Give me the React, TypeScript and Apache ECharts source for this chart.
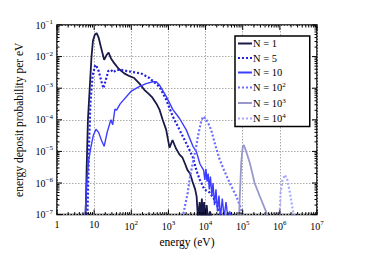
import React, { useEffect, useRef } from "react";
import * as echarts from "echarts";

// energies (eV) and probabilities per eV
const n1E = [5.9, 6.3, 6.8, 7.6, 8.5, 9.3, 10.5, 11.7, 13.2, 15.1, 18.6, 21.4, 24.5, 28.2, 34.7, 45, 64.6, 90, 120, 166, 224, 300, 372, 470, 575, 700, 871, 1072, 1288, 1585, 1995, 2399, 2818, 3236, 3802, 4467, 5248, 5754, 6026, 6310, 6918, 7413, 7943, 8511, 9120, 10000, 10715, 11749, 13183, 15136];
const n1P = [1e-7, 3.2e-6, 1e-4, 1e-3, 1e-2, 3.2e-2, 5e-2, 5.5e-2, 4e-2, 2.1e-2, 7.9e-3, 1.1e-2, 1.35e-2, 8.9e-3, 6.2e-3, 4.2e-3, 2.95e-3, 2.4e-3, 2.1e-3, 1.4e-3, 8.9e-4, 6.5e-4, 5e-4, 3.3e-4, 2.1e-4, 1e-4, 4.8e-5, 1.3e-5, 2.3e-5, 1.26e-5, 7.9e-6, 6.3e-6, 4e-6, 2.6e-6, 2e-6, 1.1e-6, 6.3e-7, 3.7e-7, 1.4e-7, 8e-8, 2.5e-7, 6.3e-8, 3.2e-7, 6.3e-8, 2.5e-7, 6.3e-8, 2e-7, 6.3e-8, 1.26e-7, 6.3e-8];

const n5E = [6.6, 7.2, 7.9, 9.1, 10.5, 11.2, 13.2, 15.8, 17.8, 20, 24, 28.2, 33.1, 39.8, 52.5, 100, 182, 309, 575, 871, 1318, 1995, 3020, 4467, 5623, 6918, 9333, 12882, 19498, 23988, 26303];
const n5P = [1e-7, 1e-5, 3.2e-4, 2.5e-3, 5e-3, 5.5e-3, 3.5e-3, 1.6e-3, 1e-3, 1.6e-3, 3.5e-3, 3.8e-3, 3.2e-3, 3.8e-3, 3.8e-3, 3.3e-3, 2.95e-3, 2.1e-3, 1.1e-3, 4.3e-4, 1.26e-4, 4.8e-5, 1.8e-5, 6.9e-6, 2.6e-6, 1.3e-6, 6.2e-7, 5e-7, 2.4e-7, 1.15e-7, 8e-8];

const n10E = [5.75, 6.3, 7.1, 8.1, 9.5, 11.2, 13.2, 15.8, 18.6, 22.4, 28.2, 31.6, 36.3, 39.8, 50.1, 97.7, 158, 251, 380, 468, 575, 871, 1318, 1995, 3020, 4571, 5623, 7079, 8913, 9550, 10233, 10965, 11749, 12589, 13490, 14791, 15849, 17378, 19055, 20893, 22909, 25119, 28184, 31623, 35481, 39811, 44668, 50119];
const n10P = [1e-7, 1e-6, 5e-6, 1.26e-5, 3.2e-5, 5e-5, 4e-5, 2.2e-5, 1.45e-5, 4e-5, 1e-4, 7e-5, 2.2e-4, 2e-4, 3.2e-4, 7.9e-4, 1.1e-3, 1.4e-3, 1.6e-3, 1.6e-3, 1.26e-3, 5.5e-4, 2.1e-4, 1.1e-4, 4.8e-5, 1.45e-5, 1e-5, 4e-6, 2.5e-6, 1.26e-6, 2.8e-6, 1.1e-6, 2e-6, 6.3e-7, 1.6e-6, 4e-7, 1e-6, 2e-7, 6.3e-7, 1.26e-7, 4e-7, 8e-8, 3.2e-7, 8e-8, 2.5e-7, 8e-8, 1.26e-7, 8e-8];

const n100E = [2399, 2818, 3311, 3715, 4467, 5370, 6310, 7413, 8511, 10000, 11749, 14125, 18197, 23988, 31623, 44668, 67608, 91201, 100000];
const n100P = [8e-8, 2e-7, 5e-7, 1.3e-6, 4e-6, 1.1e-5, 3.2e-5, 7.9e-5, 1.26e-4, 1.1e-4, 7.9e-5, 4.8e-5, 1.6e-5, 5.5e-6, 2.5e-6, 1e-6, 3.8e-7, 1.45e-7, 8e-8];

const n1000E = [79433, 85114, 91201, 100000, 107152, 120226, 154882, 208930, 288403, 436516, 478630];
const n1000P = [8e-8, 6.3e-7, 4.4e-6, 1.4e-5, 1.6e-5, 1.1e-5, 4.4e-6, 1e-6, 3.8e-7, 1.15e-7, 8e-8];

const n10000E = [977237, 1047129, 1174898, 1380384, 1584893, 1862087, 2290868, 2398833];
const n10000P = [8e-8, 5e-7, 1.26e-6, 1.8e-6, 1.26e-6, 5e-7, 1.15e-7, 8e-8];

const seriesNames = ["N = 1", "N = 5", "N = 10", "N = 10{s|2}", "N = 10{s|3}", "N = 10{s|4}"];
const seriesColors = ["#1a1a48", "#2323e0", "#3c3cff", "#6e6eff", "#9898cc", "#a8a8ff"];
const seriesDotted = [false, true, false, true, false, true];
const seriesWidths = [1.8, 2.2, 1.4, 2.2, 1.8, 2.2];
const xDecades = [0, 1, 2, 3, 4, 5, 6, 7];
const yDecades = [-7, -6, -5, -4, -3, -2, -1];
const minorMult = [2, 3, 4, 5, 6, 7, 8, 9];

const FONT = "Liberation Serif";
const SOLID_ICON = "path://M0 0H14V2H0Z";
const DOT_ICON = "path://M0 0H2V2H0Z M4 0H6V2H4Z M8 0H10V2H8Z M12 0H14V2H12Z";

const zip = (e: number[], p: number[]) => e.map((v, i) => [v, p[i]]);

function expLabel(v: number) {
  const n = Math.round(Math.log10(v));
  if (n === 0) return "1";
  if (n === 1) return "10";
  return "10{s|" + (n < 0 ? "\u2212" + -n : n) + "}";
}

export default function App() {
  const ref = useRef<HTMLDivElement>(null);
  useEffect(() => {
    if (!ref.current) return;
    const chart = echarts.init(ref.current, undefined, { renderer: "svg" });
    const xTicks: number[][] = [];
    xDecades.forEach((d) => {
      xTicks.push([Math.pow(10, d), 5]);
      if (d < 7) minorMult.forEach((m) => xTicks.push([m * Math.pow(10, d), 2.5]));
    });
    const yTicks: number[][] = [];
    yDecades.forEach((d) => {
      yTicks.push([Math.pow(10, d), 5]);
      if (d < -1) minorMult.forEach((m) => yTicks.push([m * Math.pow(10, d), 2.5]));
    });
    const rich = {
      s: { fontSize: 7, fontFamily: FONT, color: "#000", padding: [0, 0, 6, 0] },
    };
    const legendRich = {
      s: { fontSize: 7, fontFamily: FONT, color: "#000", padding: [0, 0, 5, 0], lineHeight: 10 },
    };
    const allData = [zip(n1E, n1P), zip(n5E, n5P), zip(n10E, n10P), zip(n100E, n100P), zip(n1000E, n1000P), zip(n10000E, n10000P)];
    const lineSeries = seriesNames.map((name, i) => ({
      type: "line",
      name,
      data: allData[i],
      showSymbol: false,
      symbol: "none",
      clip: true,
      z: 3,
      lineStyle: { color: seriesColors[i], width: seriesWidths[i], type: seriesDotted[i] ? [2, 2] : "solid" },
      itemStyle: { color: seriesColors[i] },
    }));
    chart.setOption({
      animation: false,
      grid: { left: 57, right: 57, top: 25, bottom: 38, show: true, borderColor: "#000", borderWidth: 1.5, backgroundColor: "transparent" },
      xAxis: {
        type: "log",
        logBase: 10,
        min: 1,
        max: 1e7,
        interval: 1,
        name: "energy (eV)",
        nameLocation: "middle",
        nameGap: 17,
        nameTextStyle: { fontFamily: FONT, fontSize: 11.5, color: "#000" },
        axisLine: { show: false },
        axisTick: { show: false },
        axisLabel: { formatter: expLabel, fontFamily: FONT, fontSize: 10, color: "#000", margin: 5, rich, verticalAlign: "top" },
        splitLine: { show: true, lineStyle: { color: "#aaa", type: [1.5, 1.5], width: 1 } },
      },
      yAxis: {
        type: "log",
        logBase: 10,
        min: 1e-7,
        max: 1e-1,
        interval: 1,
        name: "energy deposit probability per eV",
        nameLocation: "middle",
        nameGap: 29,
        nameTextStyle: { fontFamily: FONT, fontSize: 11.5, color: "#000" },
        axisLine: { show: false },
        axisTick: { show: false },
        axisLabel: { formatter: expLabel, fontFamily: FONT, fontSize: 10, color: "#000", margin: 4, rich },
        splitLine: { show: true, lineStyle: { color: "#aaa", type: [1.5, 1.5], width: 1 } },
      },
      legend: {
        orient: "vertical",
        left: 235,
        top: 36,
        data: seriesNames.map((name, i) => ({
          name,
          icon: seriesDotted[i] ? DOT_ICON : SOLID_ICON,
          itemStyle: { color: seriesColors[i], borderWidth: 0 },
        })),
        backgroundColor: "#fff",
        borderColor: "#000",
        borderWidth: 1.5,
        borderRadius: 0,
        padding: [2, 24, 2, 3],
        itemGap: 3.5,
        itemWidth: 14,
        itemHeight: 11,
        z: 10,
        textStyle: { fontFamily: FONT, fontSize: 10.5, color: "#000", lineHeight: 11, padding: [0, 0, 0, -4], rich: legendRich },
      },
      series: [
        ...lineSeries,
        {
          type: "custom",
          name: "xticks",
          data: xTicks.map((t) => [t[0], 1e-4, t[1]]),
          silent: true,
          z: 5,
          renderItem: (_p: any, api: any) => {
            const v = api.value(0);
            const len = api.value(2);
            const b = api.coord([v, 1e-7]);
            const t = api.coord([v, 1e-1]);
            const st = { stroke: "#000", lineWidth: 1 };
            return {
              type: "group",
              children: [
                { type: "line", shape: { x1: b[0], y1: b[1], x2: b[0], y2: b[1] - len }, style: st },
                { type: "line", shape: { x1: t[0], y1: t[1], x2: t[0], y2: t[1] + len }, style: st },
              ],
            };
          },
        },
        {
          type: "custom",
          name: "yticks",
          data: yTicks.map((t) => [100, t[0], t[1]]),
          silent: true,
          z: 5,
          renderItem: (_p: any, api: any) => {
            const v = api.value(1);
            const len = api.value(2);
            const l = api.coord([1, v]);
            const r = api.coord([1e7, v]);
            const st = { stroke: "#000", lineWidth: 1 };
            return {
              type: "group",
              children: [
                { type: "line", shape: { x1: l[0], y1: l[1], x2: l[0] + len, y2: l[1] }, style: st },
                { type: "line", shape: { x1: r[0], y1: r[1], x2: r[0] - len, y2: r[1] }, style: st },
              ],
            };
          },
        },
      ],
    });
    return () => chart.dispose();
  }, []);
  return <div ref={ref} style={{ position: "fixed", left: 0, top: 0, width: 374, height: 253, background: "#fff" }} />;
}
